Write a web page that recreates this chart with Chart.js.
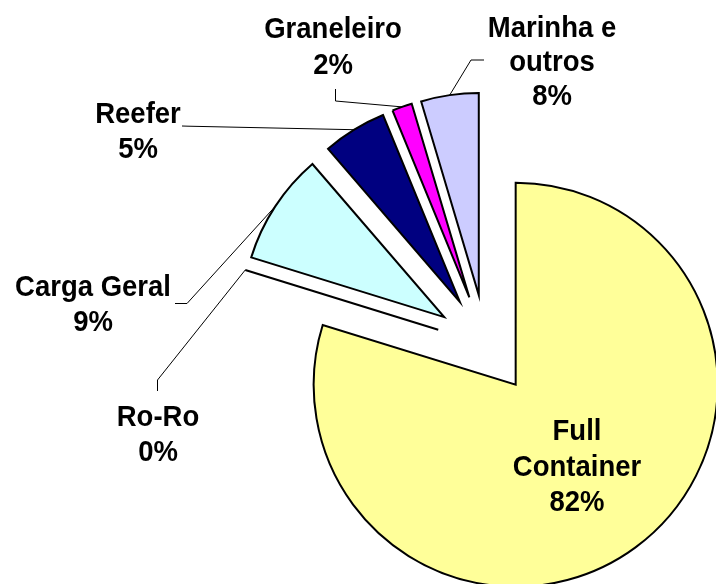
<!DOCTYPE html>
<html>
<head>
<meta charset="utf-8">
<script src="https://cdn.jsdelivr.net/npm/chart.js@4/dist/chart.umd.min.js"></script>
<style>
  html, body { margin: 0; padding: 0; background: #ffffff; }
  #wrap { width: 716px; height: 584px; position: relative; }
  canvas { display: block; }
</style>
</head>
<body>
<div id="wrap"><canvas id="c" width="716" height="584"></canvas></div>
<script>
// ---- data ----
const categories = ['Full Container', 'Ro-Ro', 'Carga Geral', 'Reefer', 'Graneleiro', 'Marinha e outros'];
// slice sizes as measured from the slice angles
const shares = [79.7, 0, 8.9, 5.1, 1.6, 4.6];
// percentages as printed on the chart's labels
const percentLabels = ['82%', '0%', '9%', '5%', '2%', '8%'];
// label text lines
const labelLines = [
  ['Full', 'Container'],
  ['Ro-Ro'],
  ['Carga Geral'],
  ['Reefer'],
  ['Graneleiro'],
  ['Marinha e', 'outros']
];

// ---- styling / layout ----
const sliceColors = ['#FFFF99', '#993366', '#CCFFFF', '#000080', '#FF00FF', '#CCCCFF'];
const explodeDist = 50;
const pieRadius = 202;
const fontSize = 27.5;
const fontStretchY = 1.05;
const fontFamily = "'Liberation Sans', Arial, Helvetica, sans-serif";
// label boxes: centre x, cap-centre y of first line, line height, leader start & elbow
const labelLayout = [
  { x: 577, y: 430,   lh: 35.5, leader: null },
  { x: 158, y: 415.5, lh: 35.5, leader: [[157.5, 391], [157.5, 380]] },
  { x: 93,  y: 285.5, lh: 35.5, leader: [[175, 303.5], [187, 303.5]] },
  { x: 138, y: 112.5, lh: 35,   leader: [[182, 126], [188, 126.2]] },
  { x: 333, y: 27.5,  lh: 36.5, leader: [[335.5, 89], [335.5, 101]] },
  { x: 552, y: 27,    lh: 34,   leader: [[484, 60], [471, 60]] }
];

const explodePlugin = {
  id: 'explodePie',
  beforeDatasetDraw(chart, args) {
    const ctx = chart.ctx;
    args.meta.data.forEach((arc) => {
      const mid = (arc.startAngle + arc.endAngle) / 2;
      ctx.save();
      ctx.translate(Math.cos(mid) * explodeDist, Math.sin(mid) * explodeDist);
      if (arc.circumference === 0) {
        ctx.beginPath();
        ctx.moveTo(arc.x, arc.y);
        ctx.lineTo(arc.x + Math.cos(arc.startAngle) * arc.outerRadius,
                   arc.y + Math.sin(arc.startAngle) * arc.outerRadius);
        ctx.lineWidth = arc.options.borderWidth;
        ctx.strokeStyle = arc.options.borderColor;
        ctx.stroke();
      } else {
        arc.draw(ctx);
      }
      ctx.restore();
    });
    return false;
  },
  afterDatasetsDraw(chart) {
    const ctx = chart.ctx;
    const arcs = chart.getDatasetMeta(0).data;
    ctx.save();
    // leader lines
    arcs.forEach((arc, i) => {
      const lay = labelLayout[i];
      if (!lay.leader) return;
      const mid = (arc.startAngle + arc.endAngle) / 2;
      const r = explodeDist + arc.outerRadius;
      const ex = arc.x + Math.cos(mid) * r;
      const ey = arc.y + Math.sin(mid) * r;
      ctx.beginPath();
      ctx.moveTo(lay.leader[0][0], lay.leader[0][1]);
      ctx.lineTo(lay.leader[1][0], lay.leader[1][1]);
      ctx.lineTo(ex, ey);
      ctx.lineWidth = 1;
      ctx.strokeStyle = '#000000';
      ctx.stroke();
    });
    // labels
    ctx.fillStyle = '#000000';
    ctx.textAlign = 'center';
    ctx.textBaseline = 'alphabetic';
    ctx.font = 'bold ' + fontSize + 'px ' + fontFamily;
    const capHalf = fontSize * fontStretchY * 0.716 / 2;
    categories.forEach((cat, i) => {
      const lay = labelLayout[i];
      const lines = labelLines[i].concat([percentLabels[i]]);
      lines.forEach((t, k) => {
        ctx.save();
        ctx.translate(lay.x, lay.y + k * lay.lh + capHalf);
        ctx.scale(1, fontStretchY);
        ctx.fillText(t, 0, 0);
        ctx.restore();
      });
    });
    ctx.restore();
  }
};

new Chart(document.getElementById('c'), {
  type: 'pie',
  data: {
    labels: categories,
    datasets: [{
      data: shares,
      backgroundColor: sliceColors,
      borderColor: '#000000',
      borderWidth: 2,
      borderJoinStyle: 'miter',
      offset: 0,
      clip: false
    }]
  },
  options: {
    responsive: false,
    devicePixelRatio: 1,
    animation: false,
    events: [],
    radius: pieRadius,
    rotation: 0,
    layout: { padding: { left: 256, right: 0, top: 105, bottom: 0 } },
    plugins: {
      legend: { display: false },
      tooltip: { enabled: false },
      title: { display: false }
    }
  },
  plugins: [explodePlugin]
});
</script>
</body>
</html>
